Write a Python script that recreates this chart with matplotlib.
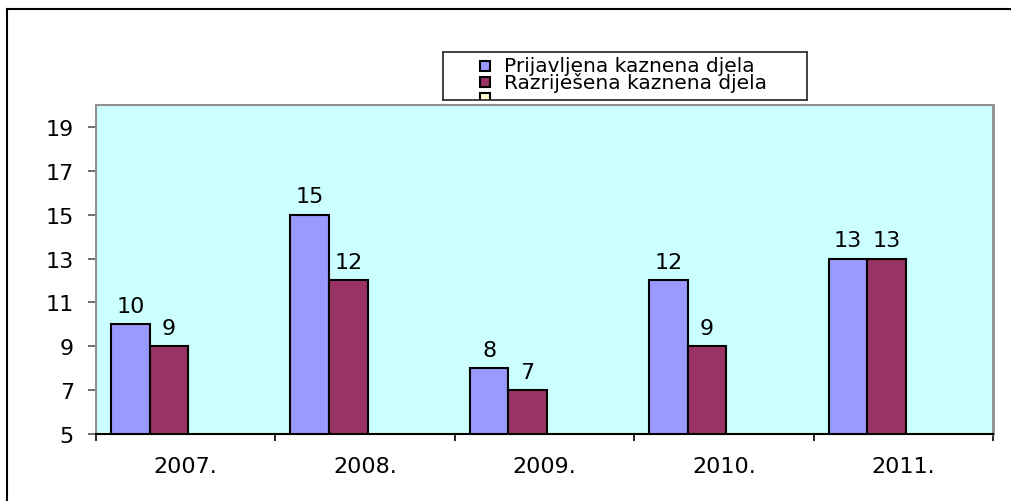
import numpy as np
import matplotlib.pyplot as plt
from matplotlib.patches import Rectangle
from matplotlib.lines import Line2D

years = ["2007.", "2008.", "2009.", "2010.", "2011."]
prijavljena = [10, 15, 8, 12, 13]
razrijesena = [9, 12, 7, 9, 13]
legend_labels = ["Prijavljena kaznena djela", "Razriješena kaznena djela", ""]

c_blue = "#9999FF"
c_red = "#993366"
c_yellow = "#FFFFCC"
bg = "#CCFFFF"

plt.rcParams["font.family"] = ["DejaVu Sans"]

W, H = 1011, 502
fig = plt.figure(figsize=(W / 100, H / 100), dpi=100)

# plot area in pixels
L, R, T, B = 96, 993, 106, 435
ax = fig.add_axes([L / W, (H - B) / H, (R - L) / W, (B - T) / H])
ax.set_facecolor(bg)

x = np.arange(len(years))
w = 0.215
ax.bar(x - 0.309, prijavljena, w, bottom=0, color=c_blue, edgecolor="black", linewidth=1.5)
ax.bar(x - 0.094, razrijesena, w, bottom=0, color=c_red, edgecolor="black", linewidth=1.5)

for xi, v in zip(x - 0.309, prijavljena):
    ax.annotate(str(v), (xi, v), xytext=(0, 6), textcoords="offset points",
                ha="center", va="bottom", fontsize=16)
for xi, v in zip(x - 0.094, razrijesena):
    ax.annotate(str(v), (xi, v), xytext=(0, 6), textcoords="offset points",
                ha="center", va="bottom", fontsize=16)

ax.set_xlim(-0.5, 4.5)
ax.set_ylim(5, 20)
ax.set_yticks(range(5, 20, 2))
ax.set_xticks(np.arange(-0.5, 5, 1))
ax.set_xticklabels([])
ax.set_xticks(x, minor=True)
ax.set_xticklabels(years, minor=True, fontsize=16)
ax.tick_params(axis="x", which="minor", length=0, pad=16)
ax.tick_params(axis="x", which="major", length=5, width=1.2, color="black")
ax.tick_params(axis="y", length=6, width=1.2, color="#555555", labelsize=16, pad=10)

for s in ["left", "top", "right"]:
    ax.spines[s].set_color("#909090")
    ax.spines[s].set_linewidth(1.5)
ax.spines["right"].set_linewidth(2)
ax.spines["bottom"].set_color("black")
ax.spines["bottom"].set_linewidth(1.5)

# legend box
lx0, ly0, lx1, ly1 = 443, 53, 807, 101
lax = fig.add_axes([lx0 / W, (H - ly1) / H, (lx1 - lx0) / W, (ly1 - ly0) / H])
lax.set_xlim(0, lx1 - lx0)
lax.set_ylim(ly1 - ly0, 0)
lax.set_xticks([])
lax.set_yticks([])
for s in lax.spines.values():
    s.set_linewidth(1.3)
    s.set_color("#333333")
for i, (lab, col) in enumerate(zip(legend_labels, [c_blue, c_red, c_yellow])):
    cy = 14 + i * 16
    lax.add_patch(Rectangle((37, cy - 5), 10, 10, facecolor=col, edgecolor="black",
                            linewidth=1.5, clip_on=True))
    lax.text(61, cy, lab, fontsize=14.5, va="center", ha="left")

# outer border (left and top)
fig.add_artist(Line2D([7 / W, 7 / W], [0, 1 - 10 / H], color="black", linewidth=1.5))
fig.add_artist(Line2D([7 / W, 1], [1 - 10 / H, 1 - 10 / H], color="black", linewidth=1.5))

fig.savefig("out.png", dpi=100)
